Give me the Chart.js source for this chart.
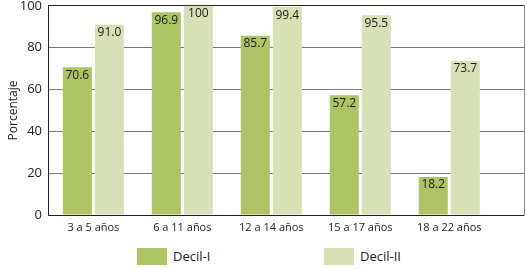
<!DOCTYPE html>
<html>
<head>
<meta charset="utf-8">
<script src="https://cdn.jsdelivr.net/npm/chart.js@4.4.1/dist/chart.umd.min.js"></script>
<style>
  body { margin: 0; background: #fff; overflow: hidden; }
  #wrap { position: relative; width: 527px; height: 269px; overflow: hidden; }
  #myChart { position: absolute; left: 0; top: -6px; }
  .leg { position: absolute; top: 248px; font: 13px "Open Sans", sans-serif; color: #222; }
  .leg span { position: absolute; left: 0; top: 0; width: 30px; height: 17px; }
  .leg b { position: absolute; left: 36px; top: -1px; font-weight: normal; white-space: nowrap; }
</style>
</head>
<body>
<div id="wrap">
  <canvas id="myChart" width="527" height="246"></canvas>
  <div class="leg" style="left:137px"><span style="background:#aec366"></span><b>Decil-I</b></div>
  <div class="leg" style="left:324px"><span style="background:#d8e1b6"></span><b>Decil-II</b></div>
</div>
<script>
const categories = ["3 a 5 años", "6 a 11 años", "12 a 14 años", "15 a 17 años", "18 a 22 años"];
const decil1 = [70.6, 96.9, 85.7, 57.2, 18.2];
const decil2 = [91.0, 100, 99.4, 95.5, 73.7];
const yTicks = [0, 20, 40, 60, 80, 100];

const font = "'Open Sans', sans-serif";

// value labels inside the top of each bar
const valueLabels = {
  id: "valueLabels",
  afterDatasetsDraw(chart) {
    const ctx = chart.ctx;
    ctx.save();
    ctx.font = "12px " + font;
    ctx.fillStyle = "#1a1a1a";
    ctx.textAlign = "center";
    ctx.textBaseline = "top";
    chart.data.datasets.forEach((ds, di) => {
      chart.getDatasetMeta(di).data.forEach((bar, i) => {
        const v = ds.data[i].y;
        const txt = v === 100 ? "100" : v.toFixed(1);
        ctx.fillText(txt, bar.x, bar.y + 2);
      });
    });
    ctx.restore();
  },
};

const ctx = document.getElementById("myChart").getContext("2d");
const myChart = new Chart(ctx, {
  type: "bar",
  data: {
    datasets: [
      {
        label: "Decil-I",
        data: decil1.map((v, i) => ({ x: i, y: v })),
        backgroundColor: "#aec366",
      },
      {
        label: "Decil-II",
        data: decil2.map((v, i) => ({ x: i, y: v })),
        backgroundColor: "#d8e1b6",
      },
    ],
  },
  options: {
    responsive: false,
    animation: false,
    categoryPercentage: 0.72,
    barPercentage: 0.906,
    layout: { padding: { top: 0, left: 0, right: 0, bottom: 0 } },
    plugins: {
      legend: { display: false },
      tooltip: { enabled: false },
    },
    scales: {
      x: {
        type: "linear",
        offset: false,
        min: -0.51,
        max: 4.84,
        grid: { display: false, drawTicks: false, offset: false },
        border: { color: "#222", width: 1 },
        ticks: {
          stepSize: 1,
          includeBounds: false,
          autoSkip: false,
          maxRotation: 0,
          padding: 6,
          color: "#222",
          font: { family: font, size: 11 },
          callback: (v) => (Number.isInteger(v) ? categories[v] || "" : ""),
        },
        afterFit: (s) => { s.height = 25; },
      },
      y: {
        min: 0,
        max: 100,
        afterBuildTicks: (s) => { s.ticks = yTicks.map((v) => ({ value: v })); },
        grid: {
          drawTicks: false,
          color: (c) => (c.tick && c.tick.value === 100 ? "#222" : "#7a7a7a"),
        },
        border: { color: "#222", width: 1 },
        ticks: {
          padding: 6,
          color: "#222",
          font: { family: font, size: 13, lineHeight: 0.9 },
        },
        title: {
          display: true,
          text: "Porcentaje",
          color: "#222",
          font: { family: font, size: 12 },
          padding: { top: 6, bottom: 2 },
        },
        afterFit: (s) => { s.width = 48; },
      },
      y2: {
        position: "right",
        min: 0,
        max: 100,
        grid: { display: false, drawTicks: false },
        border: { color: "#8a8a8a", width: 1 },
        ticks: { display: false },
        afterFit: (s) => { s.width = 3; },
      },
    },
  },
  plugins: [valueLabels],
});
</script>
</body>
</html>
